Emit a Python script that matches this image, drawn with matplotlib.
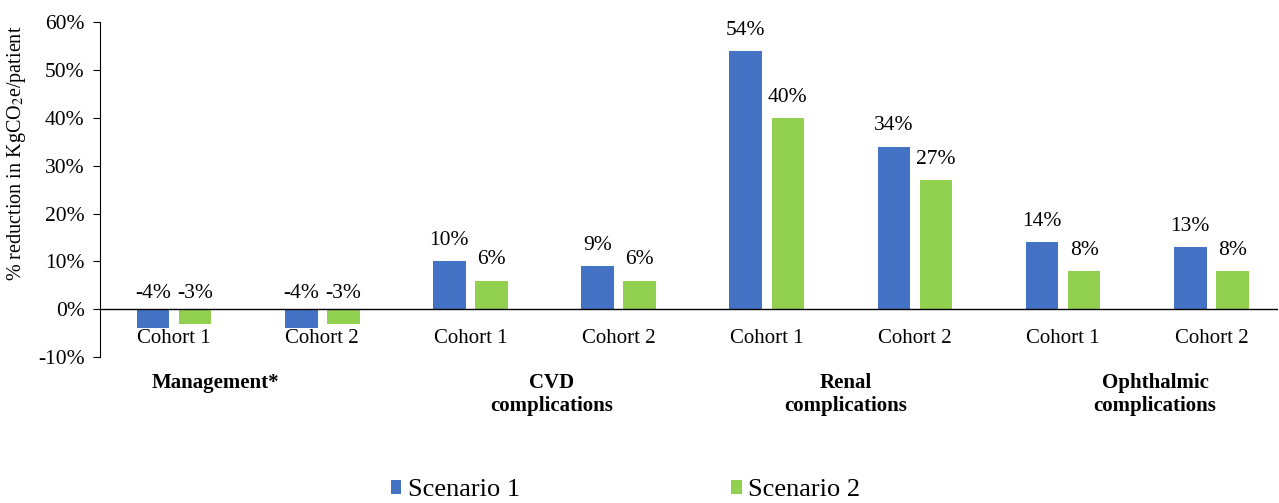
import matplotlib
matplotlib.use("Agg")
import matplotlib.pyplot as plt
import numpy as np

plt.rcParams['font.family'] = ['Liberation Serif', 'DejaVu Serif']
plt.rcParams['mathtext.fontset'] = 'stix'

cohorts = ['Cohort 1', 'Cohort 2', 'Cohort 1', 'Cohort 2',
           'Cohort 1', 'Cohort 2', 'Cohort 1', 'Cohort 2']
scenario1 = [-4, -4, 10, 9, 54, 34, 14, 13]
scenario2 = [-3, -3, 6, 6, 40, 27, 8, 8]
groups = ['Management*', 'CVD\ncomplications', 'Renal\ncomplications', 'Ophthalmic\ncomplications']
group_x = [0.28, 2.55, 4.53, 6.62]

blue = '#4472C4'
green = '#92D050'

fig = plt.figure(figsize=(12.79, 5.03), dpi=100)
ax = fig.add_axes([100 / 1279, 0.290, 1178 / 1279, 0.666])

x = np.arange(len(cohorts))
w = 0.22
off = 0.142
b1 = ax.bar(x - off, scenario1, w, color=blue, label='Scenario 1')
b2 = ax.bar(x + off, scenario2, w, color=green, label='Scenario 2')

for bars, vals in ((b1, scenario1), (b2, scenario2)):
    for b, v in zip(bars, vals):
        top = max(v, 0)
        dy = 15 if v > 0 else 11.5
        ax.annotate(f'{v}%', (b.get_x() + b.get_width() / 2, top),
                    xytext=(0, dy), textcoords='offset points',
                    ha='center', va='center', fontsize=15.5)

ax.set_xlim(-0.5, 7.45)
ax.set_ylim(-10, 60)
ax.set_yticks(np.arange(-10, 61, 10))
ax.set_yticklabels([f'{t}%' for t in range(-10, 61, 10)], fontsize=15.5)
ax.set_xticks([])
ax.axhline(0, color='black', lw=1)
for s in ['top', 'right', 'bottom']:
    ax.spines[s].set_visible(False)
ax.spines['left'].set_color('black')
ax.tick_params(axis='y', length=5, direction='out', pad=6)
ax.set_ylabel('% reduction in KgCO$_2$e/patient', fontsize=14.5)
ax.yaxis.set_label_coords(-0.061, 0.61)

for xi, c in zip(x, cohorts):
    ax.text(xi, -6.1, c, ha='center', va='center', fontsize=15)

for gx, g in zip(group_x, groups):
    ax.text(gx, -13.4, g, ha='center', va='top', fontsize=15,
            fontweight='bold', linespacing=1.2)

fig.legend(handles=[b1, b2], labels=['Scenario 1', 'Scenario 2'],
           loc='center', bbox_to_anchor=(0.489, 0.025), ncol=2, frameon=False,
           fontsize=19, handlelength=0.4, handleheight=0.4, handletextpad=0.25,
           columnspacing=8)

fig.savefig('out.png', dpi=100)
